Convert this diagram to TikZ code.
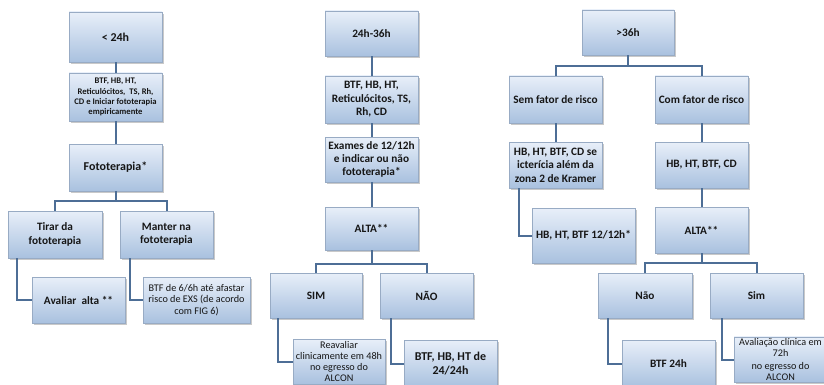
\documentclass[tikz,border=0pt]{standalone}
\usepackage{fontspec}
\setmainfont{Carlito}
\usetikzlibrary{shadows}

\definecolor{boxtop}{HTML}{E8EFF9}
\definecolor{boxbot}{HTML}{A9C1DF}
\definecolor{boxedge}{HTML}{98ABC4}
\definecolor{linkc}{HTML}{4D6E96}
\definecolor{ink}{HTML}{161616}

\tikzset{
  box/.style={draw=boxedge, line width=0.7pt, top color=boxtop, bottom color=boxbot,
    align=center, inner sep=1pt, text=ink,
    drop shadow={shadow xshift=1.6pt, shadow yshift=-1.6pt, opacity=0.35, fill=black!60}},
  link/.style={draw=linkc, line width=2pt},
  fa/.style={font=\bfseries\fontsize{12}{14}\selectfont},
  fb/.style={font=\bfseries\fontsize{11.3}{13.4}\selectfont},
  fc/.style={font=\bfseries\fontsize{8.6}{10.2}\selectfont},
  fr/.style={font=\fontsize{10.2}{11.3}\selectfont},
}

% box given by its corners: name, x1, y1, x2, y2, style, text
\newcommand\flowbox[7]{%
  \pgfmathsetmacro\bxw{#4-#2}\pgfmathsetmacro\bxh{#5-#3}%
  \node[box, #6, minimum width=\bxw pt, minimum height=\bxh pt] (#1)
    at ({(#2+#4)/2},{(#3+#5)/2}) {#7};}

\begin{document}
\begin{tikzpicture}[x=1pt, y=-1pt]
\useasboundingbox[fill=white] (0,0) rectangle (824,385);

% ---- < 24h ----
\flowbox{a1}{69}{12}{162}{62}{fa}{< 24h}
\flowbox{a2}{69}{73}{162}{121}{fc}{BTF, HB, HT,\\Reticulócitos,\ \ TS, Rh,\\CD e Iniciar fototerapia\\empiricamente}
\flowbox{a3}{69}{144}{162}{191}{fa}{Fototerapia*}
\flowbox{a4}{8}{211}{102}{258}{fb}{Tirar da\\fototerapia}
\flowbox{a5}{120}{211}{213}{258}{fb}{Manter na\\fototerapia}
\flowbox{a6}{32}{277}{125}{323}{fb}{Avaliar\ \ alta **}
\flowbox{a7}{143}{277}{250}{323}{fr}{BTF de 6/6h até afastar\\risco de EXS (de acordo\\com FIG 6)}

% ---- 24h-36h ----
\flowbox{b1}{325}{11}{418}{56}{fb}{24h-36h}
\flowbox{b2}{325}{76}{418}{123}{fb}{BTF, HB, HT,\\Reticulócitos, TS,\\Rh, CD}
\flowbox{b3}{325}{137}{418}{182}{fb}{Exames de 12/12h\\e indicar ou não\\fototerapia*}
\flowbox{b4}{325}{207}{418}{250}{fb}{ALTA**}
\flowbox{b5}{270}{273}{362}{318}{fb}{SIM}
\flowbox{b6}{380}{273}{473}{318}{fb}{NÃO}
\flowbox{b7}{293}{339}{385}{384}{fr}{Reavaliar\\clinicamente em 48h\\no egresso do\\ALCON}
\flowbox{b8}{404}{340}{497}{387}{fa}{BTF, HB, HT de\\24/24h}

% ---- >36h ----
\flowbox{c1}{582}{10}{674}{55}{fb}{>36h}
\flowbox{c2}{509}{76}{602}{123}{fb}{Sem fator de risco}
\flowbox{c3}{655}{76}{748}{123}{fb}{Com fator de risco}
\flowbox{c4}{509}{142}{602}{188}{fb}{HB, HT, BTF, CD se\\icterícia além da\\zona 2 de Kramer}
\flowbox{c5}{655}{142}{748}{188}{fb}{HB, HT, BTF, CD}
\flowbox{c6}{532}{208}{635}{263}{fb}{HB, HT, BTF 12/12h*}
\flowbox{c7}{655}{207}{748}{253}{fb}{ALTA**}
\flowbox{c8}{598}{273}{692}{318}{fb}{Não}
\flowbox{c9}{710}{273}{803}{318}{fb}{Sim}
\flowbox{c10}{622}{340}{715}{387}{fb}{BTF 24h}
\flowbox{c11}{734}{337}{827}{382}{fr}{Avaliação clínica em\\72h\hspace*{40pt}\\[2pt]no egresso do\\ALCON}

% ---- connectors ----
\draw[link] (a1) -- (a2);
\draw[link] (a2) -- (a3);
\coordinate (ja) at (a3.south |- 0,201);
\draw[link] (a3) -- (ja);
\draw[link] (a4.north) |- (ja) -| (a5.north);
\draw[link] ([xshift=-38pt]a4.south) |- (a6.west);
\draw[link] ([xshift=-36.5pt]a5.south) |- (a7.west);

\draw[link] (b1) -- (b2);
\draw[link] (b2) -- (b3);
\draw[link] (b3) -- (b4);
\coordinate (jb) at (b4.south |- 0,264);
\draw[link] (b4) -- (jb);
\draw[link] (b5.north) |- (jb) -| (b6.north);
\draw[link] ([xshift=-38pt]b5.south) |- (b7.west);
\draw[link] ([xshift=-35.5pt]b6.south) |- (b8.west);

\coordinate (jc) at (c1.south |- 0,66);
\draw[link] (c1) -- (jc);
\draw[link] (c2.north) |- (jc) -| (c3.north);
\draw[link] (c2) -- (c4);
\draw[link] (c3) -- (c5);
\draw[link] (c5) -- (c7);
\draw[link] ([xshift=-36.5pt]c4.south) |- (c6.west);
\coordinate (jd) at (c7.south |- 0,263);
\draw[link] (c7) -- (jd);
\draw[link] (c8.north) |- (jd) -| (c9.north);
\draw[link] ([xshift=-37pt]c8.south) |- (c10.west);
\draw[link] ([xshift=-34.5pt]c9.south) |- (c11.west);
\end{tikzpicture}
\end{document}
